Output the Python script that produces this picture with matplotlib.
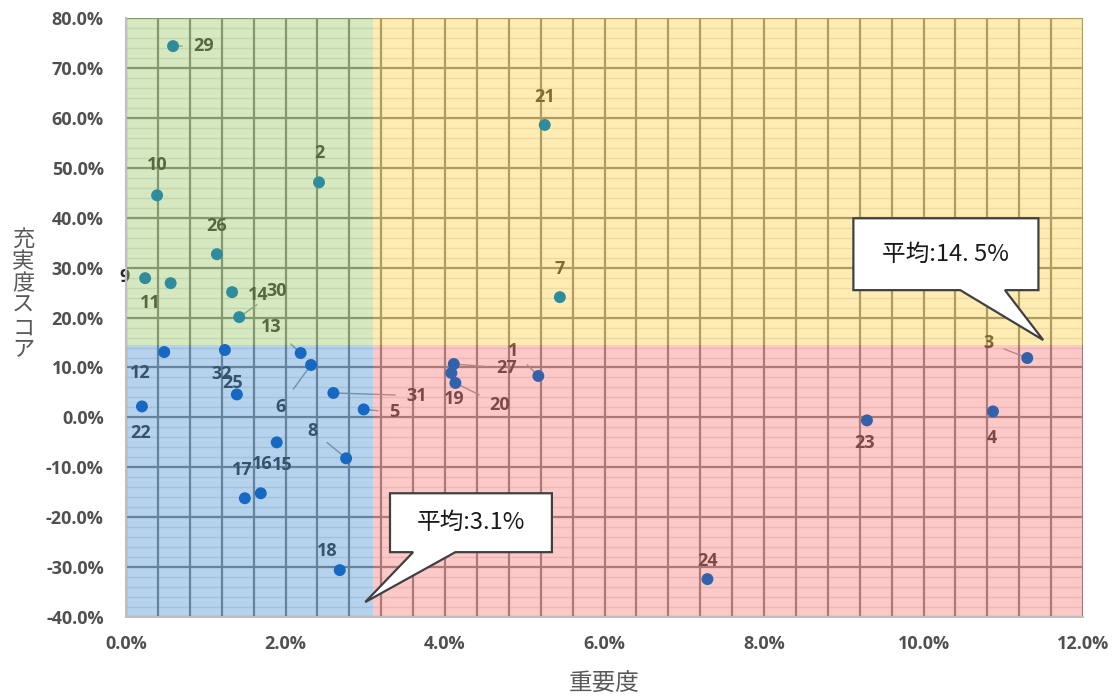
import matplotlib
matplotlib.use("Agg")
import matplotlib.pyplot as plt
import numpy as np
from matplotlib.patches import Polygon, Rectangle
from matplotlib.ticker import FuncFormatter, MultipleLocator

plt.rcParams["font.family"] = ["Noto Sans CJK JP", "DejaVu Sans"]

# item number, importance (%), fulfilment score (%)
item_ids = [29, 10, 2, 26, 9, 11, 14, 30, 12, 32, 13, 6, 25, 22, 31, 5,
            15, 8, 16, 17, 18, 21, 7, 1, 27, 19, 20, 3, 23, 4, 24]
importance = [0.59, 0.39, 2.42, 1.14, 0.24, 0.56, 1.33, 1.42, 0.48, 1.24,
              2.19, 2.32, 1.39, 0.20, 2.60, 2.98, 1.89, 2.76, 1.69, 1.49,
              2.68, 5.25, 5.44, 5.17, 4.11, 4.08, 4.13, 11.30, 9.29, 10.87, 7.29]
score = [74.4, 44.5, 47.1, 32.7, 27.9, 26.9, 25.1, 20.1, 13.1, 13.5,
         12.9, 10.5, 4.6, 2.2, 4.9, 1.6, -5.0, -8.2, -15.2, -16.2,
         -30.6, 58.6, 24.1, 8.3, 10.7, 8.9, 6.9, 11.9, -0.6, 1.2, -32.4]

avg_importance = 3.1
avg_score = 14.5

# label offsets in points (dx, dy) and whether a leader line is drawn
label_pos = {
    29: (22, 0, True), 10: (0, 22, False), 2: (0, 21, False), 26: (0, 20, False),
    9: (-15, 1, True), 11: (-15, -14, True), 14: (19, -2, True), 30: (27, 19, True),
    13: (-21, 19, True), 12: (-17, -15, True), 32: (-2, -17, False), 25: (-3, 8, False),
    6: (-22, -30, True), 31: (60, -2, True), 5: (22, -2, True), 22: (-1, -19, False),
    8: (-24, 20, True), 15: (4, -16, False), 16: (1, 21, False), 17: (-2, 20, False),
    18: (-9, 14, False), 21: (0, 20, False), 7: (0, 20, False), 1: (-18, 18, True),
    27: (38, -3, True), 19: (2, -19, False), 20: (32, -16, True), 3: (-28, 11, True),
    23: (-2, -16, False), 4: (-1, -19, False), 24: (0, 13, False),
}

fig = plt.figure(figsize=(11.12, 6.98), dpi=100)
ax = fig.add_axes([0.1133, 0.116, 0.8607, 0.858])
ax.set_xlim(0, 12)
ax.set_ylim(-40, 80)

# grid drawn underneath the tinted quadrants
for x in np.arange(0, 12.01, 0.4):
    ax.axvline(x, color="#7a7a7a", lw=1.6, zorder=1)
for y in np.arange(-40, 80.1, 10):
    ax.axhline(y, color="#7a7a7a", lw=1.6, zorder=1)
for y in np.arange(-40, 80.1, 2):
    ax.axhline(y, color="#e2e2e2", lw=1.0, zorder=0.9)


def quadrant_color(x, y):
    if y >= avg_score:
        return "#2e8c9c"
    return "#1768c2" if x < avg_importance else "#3462aa"


ax.scatter(importance, score, s=74, linewidths=0, zorder=5,
           color=[quadrant_color(x, y) for x, y in zip(importance, score)])

for i, x, y in zip(item_ids, importance, score):
    dx, dy, leader = label_pos[i]
    ax.annotate(str(i), (x, y), xytext=(dx, dy), textcoords="offset points",
                ha="center", va="center", fontsize=13, color="#2a2a2a",
                fontweight="bold", family=["Open Sans", "DejaVu Sans"], zorder=3,
                arrowprops=dict(arrowstyle="-", color="#909090", lw=1.0,
                                shrinkA=6, shrinkB=3) if leader else None)

# quadrant tints laid over grid and labels
quads = [
    (0, avg_score, avg_importance, 80 - avg_score, (150/255, 198/255, 98/255)),
    (avg_importance, avg_score, 12 - avg_importance, 80 - avg_score, (253/255, 208/255, 65/255)),
    (0, -40, avg_importance, avg_score + 40, (73/255, 145/255, 210/255)),
    (avg_importance, -40, 12 - avg_importance, avg_score + 40, (250/255, 118/255, 118/255)),
]
for x0, y0, w, h, c in quads:
    ax.add_patch(Rectangle((x0, y0), w, h, facecolor=c, alpha=0.4,
                           edgecolor="none", zorder=4))


def callout(box, base, tip, text):
    x0, x1, y0, y1 = box
    pts = [(x0, y1), (x1, y1), (x1, y0), (base[1], y0), tip, (base[0], y0), (x0, y0)]
    ax.add_patch(Polygon(pts, closed=True, facecolor="white", edgecolor="#404040",
                         lw=1.6, zorder=6, joinstyle="miter"))
    ax.text((x0 + x1) / 2, (y0 + y1) / 2, text, ha="center", va="center",
            fontsize=17, color="#1a1a1a", zorder=7)


callout((9.12, 11.44, 25.5, 39.9), (10.46, 11.02), (11.5, avg_score + 1),
        "平均:14. 5%")
callout((3.31, 5.34, -27.0, -15.2), (3.6, 4.13), (avg_importance - 0.1, -37),
        "平均:3.1%")

ax.xaxis.set_major_locator(MultipleLocator(2))
ax.yaxis.set_major_locator(MultipleLocator(10))
ax.xaxis.set_major_formatter(FuncFormatter(lambda v, p: f"{v:.1f}%"))
ax.yaxis.set_major_formatter(FuncFormatter(lambda v, p: f"{v:.1f}%"))
ax.tick_params(length=0, labelsize=13, labelcolor="#505050")
ax.tick_params(axis="x", pad=13)
ax.tick_params(axis="y", pad=16)
for lab in ax.get_xticklabels() + ax.get_yticklabels():
    lab.set_fontweight("bold")
    lab.set_family(["Open Sans", "DejaVu Sans"])

for side in ("top", "right"):
    ax.spines[side].set_visible(False)
for side in ("bottom", "left"):
    ax.spines[side].set_color("#bfbfbf")
    ax.spines[side].set_linewidth(1.5)
    ax.spines[side].set_zorder(5)

ax.set_xlabel("重要度", fontsize=17, color="#595959", labelpad=14)
fig.text(0.021, 0.578, "\n".join("充実度スコア"), ha="center", va="center",
         fontsize=16, color="#595959", linespacing=0.95)

fig.savefig("out.png", dpi=100)
